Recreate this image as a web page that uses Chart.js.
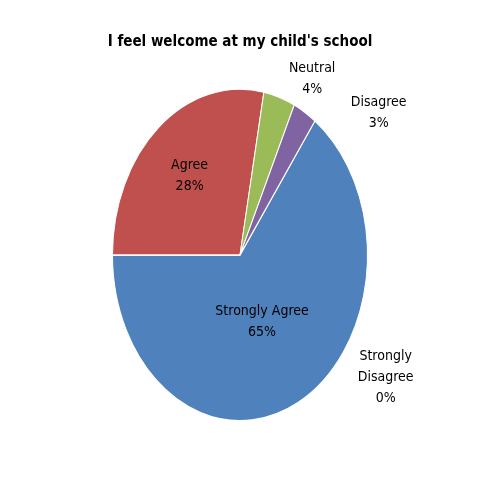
<!DOCTYPE html>
<html>
<head>
<meta charset="utf-8">
<script src="https://cdn.jsdelivr.net/npm/chart.js@4"></script>
<style>
  html, body { margin: 0; padding: 0; background: #fff; }
  #wrap { width: 480px; height: 480px; }
</style>
</head>
<body>
<div id="wrap"><canvas id="grafica" width="480" height="480"></canvas></div>
<script>
const titulo = "I feel welcome at my child's school";
const categorias = ['Strongly Agree', 'Agree', 'Neutral', 'Disagree', 'Strongly Disagree'];
const valores = [65, 28, 4, 3, 0];
const colores = ['#4F81BD', '#C0504D', '#9BBB59', '#8064A2', '#F79646'];

// label placement (style only): [angle override in deg or null, radial factor, dx, dy]
const etiquetaPos = [
  [null, 0.45, -4, 0],
  [null, 0.62, 0, 0],
  [null, 1.12, 28, 0],
  [null, 1.15, 64, 22],
  [128, 1.35, 10, -15]
];

const estirar = 1.3; // pie is drawn as a tall ellipse
const fuente = "'DejaVu Sans Condensed', 'Liberation Sans Narrow', Arial, sans-serif";

const elipse = {
  id: 'elipse',
  beforeDatasetsDraw(chart) {
    const arc = chart.getDatasetMeta(0).data[0];
    const c = chart.ctx;
    c.save();
    c.translate(0, arc.y);
    c.scale(1, estirar);
    c.translate(0, -arc.y);
  },
  afterDatasetsDraw(chart) {
    const c = chart.ctx;
    c.restore();
    const meta = chart.getDatasetMeta(0);
    c.save();
    c.fillStyle = '#000';
    c.textAlign = 'center';
    c.textBaseline = 'middle';
    c.font = 'bold 15px ' + fuente;
    c.fillText(titulo, 240, 42);
    c.font = '14px ' + fuente;
    meta.data.forEach((arc, i) => {
      const p = etiquetaPos[i];
      let ang = (arc.startAngle + arc.endAngle) / 2;
      if (p[0] !== null) ang = p[0] * Math.PI / 180 - Math.PI / 2;
      const r = arc.outerRadius * p[1];
      const x = arc.x + Math.cos(ang) * r + p[2];
      const y = arc.y + Math.sin(ang) * r * estirar + p[3];
      const pct = Math.round(valores[i] / valores.reduce((a, b) => a + b, 0) * 100) + '%';
      let lineas = [categorias[i], pct];
      if (categorias[i] === 'Strongly Disagree') lineas = ['Strongly', 'Disagree', pct];
      const h = 21;
      lineas.forEach((t, k) => c.fillText(t, x, y + (k - (lineas.length - 1) / 2) * h));
    });
    c.restore();
  }
};

new Chart(document.getElementById('grafica'), {
  type: 'pie',
  data: {
    labels: categorias,
    datasets: [{
      data: valores,
      backgroundColor: colores,
      borderColor: '#fff',
      borderWidth: 1
    }]
  },
  options: {
    responsive: false,
    animation: false,
    rotation: 36,
    layout: { padding: { left: 112, right: 112, top: 127, bottom: 97 } },
    plugins: { legend: { display: false }, tooltip: { enabled: false }, title: { display: false } }
  },
  plugins: [elipse]
});
</script>
</body>
</html>
